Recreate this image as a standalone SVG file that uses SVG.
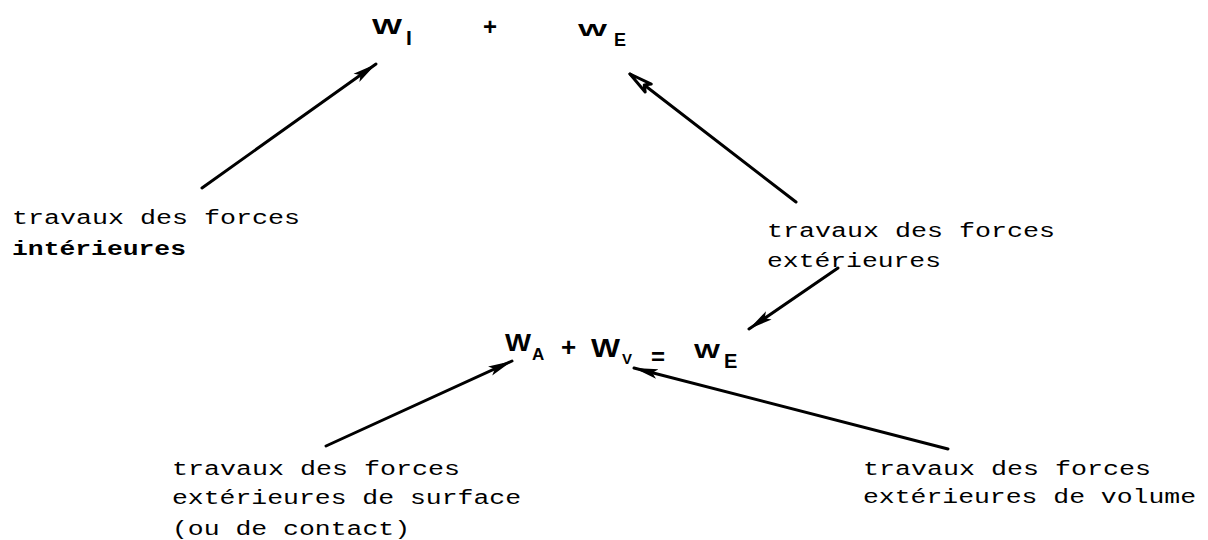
<svg xmlns="http://www.w3.org/2000/svg" width="1208" height="540" viewBox="0 0 1208 540">
  <style>
    .lbl { font-family: "Liberation Mono", "DejaVu Sans Mono", monospace; font-size: 20px; fill: #000; }
    .b { font-weight: bold; }
    .w { font-family: "Liberation Sans", Arial, sans-serif; font-weight: bold; fill: #000; }
    .con { stroke: #000; stroke-width: 3; fill: none; stroke-linecap: round; }
  </style>
  <defs>
    <marker id="ah" markerUnits="userSpaceOnUse" markerWidth="26" markerHeight="14" refX="24" refY="7" orient="auto">
      <path d="M0,2 L24,7 L0,12 L5,7 Z" fill="#000"/>
    </marker>
    <marker id="ahOpen" markerUnits="userSpaceOnUse" markerWidth="28" markerHeight="16" refX="25" refY="8" orient="auto">
      <path d="M2,3 L25,8 L2,13 L7,8 Z" fill="#fff" stroke="#000" stroke-width="3" stroke-linejoin="round"/>
    </marker>
  </defs>

  <g id="connectors">
    <line class="con" x1="202" y1="188" x2="376" y2="64" marker-end="url(#ah)"/>
    <line class="con" x1="796" y1="202" x2="630" y2="74" marker-end="url(#ahOpen)"/>
    <line class="con" x1="838" y1="268" x2="749" y2="329" marker-end="url(#ah)"/>
    <line class="con" x1="326" y1="446" x2="512" y2="361" marker-end="url(#ah)"/>
    <line class="con" x1="948" y1="449" x2="634" y2="368" marker-end="url(#ah)"/>
  </g>

  <g id="top-equation">
    <text class="w" x="372" y="34" font-size="22" textLength="30" lengthAdjust="spacingAndGlyphs">W</text>
    <text class="w" x="406" y="45" font-size="21">I</text>
    <text class="w" x="483" y="35" font-size="24">+</text>
    <text class="w" x="578" y="36" font-size="17" textLength="29" lengthAdjust="spacingAndGlyphs">W</text>
    <text class="w" x="614" y="46" font-size="18">E</text>
  </g>

  <g id="bottom-equation">
    <text class="w" x="505" y="351" font-size="24" textLength="26" lengthAdjust="spacingAndGlyphs">W</text>
    <text class="w" x="532" y="360" font-size="17">A</text>
    <text class="w" x="561" y="356" font-size="26">+</text>
    <text class="w" x="591" y="357" font-size="26" textLength="29" lengthAdjust="spacingAndGlyphs">W</text>
    <text class="w" x="622" y="364" font-size="15">V</text>
    <text class="w" x="651" y="365" font-size="24">=</text>
    <text class="w" x="694" y="358" font-size="20" textLength="26" lengthAdjust="spacingAndGlyphs">W</text>
    <text class="w" x="724" y="368" font-size="20">E</text>
  </g>

  <g id="label-interieures">
    <text class="lbl" x="12" y="224" textLength="288" lengthAdjust="spacingAndGlyphs">travaux des forces</text>
    <text class="lbl b" x="12" y="255" textLength="174" lengthAdjust="spacingAndGlyphs">intérieures</text>
  </g>

  <g id="label-exterieures">
    <text class="lbl" x="767" y="237" textLength="288" lengthAdjust="spacingAndGlyphs">travaux des forces</text>
    <text class="lbl" x="767" y="267" textLength="174" lengthAdjust="spacingAndGlyphs">extérieures</text>
  </g>

  <g id="label-surface">
    <text class="lbl" x="172" y="475" textLength="288" lengthAdjust="spacingAndGlyphs">travaux des forces</text>
    <text class="lbl" x="172" y="504" textLength="349" lengthAdjust="spacingAndGlyphs">extérieures de surface</text>
    <text class="lbl" x="172" y="535" textLength="238" lengthAdjust="spacingAndGlyphs">(ou de contact)</text>
  </g>

  <g id="label-volume">
    <text class="lbl" x="863" y="475" textLength="288" lengthAdjust="spacingAndGlyphs">travaux des forces</text>
    <text class="lbl" x="863" y="503" textLength="333" lengthAdjust="spacingAndGlyphs">extérieures de volume</text>
  </g>
</svg>
